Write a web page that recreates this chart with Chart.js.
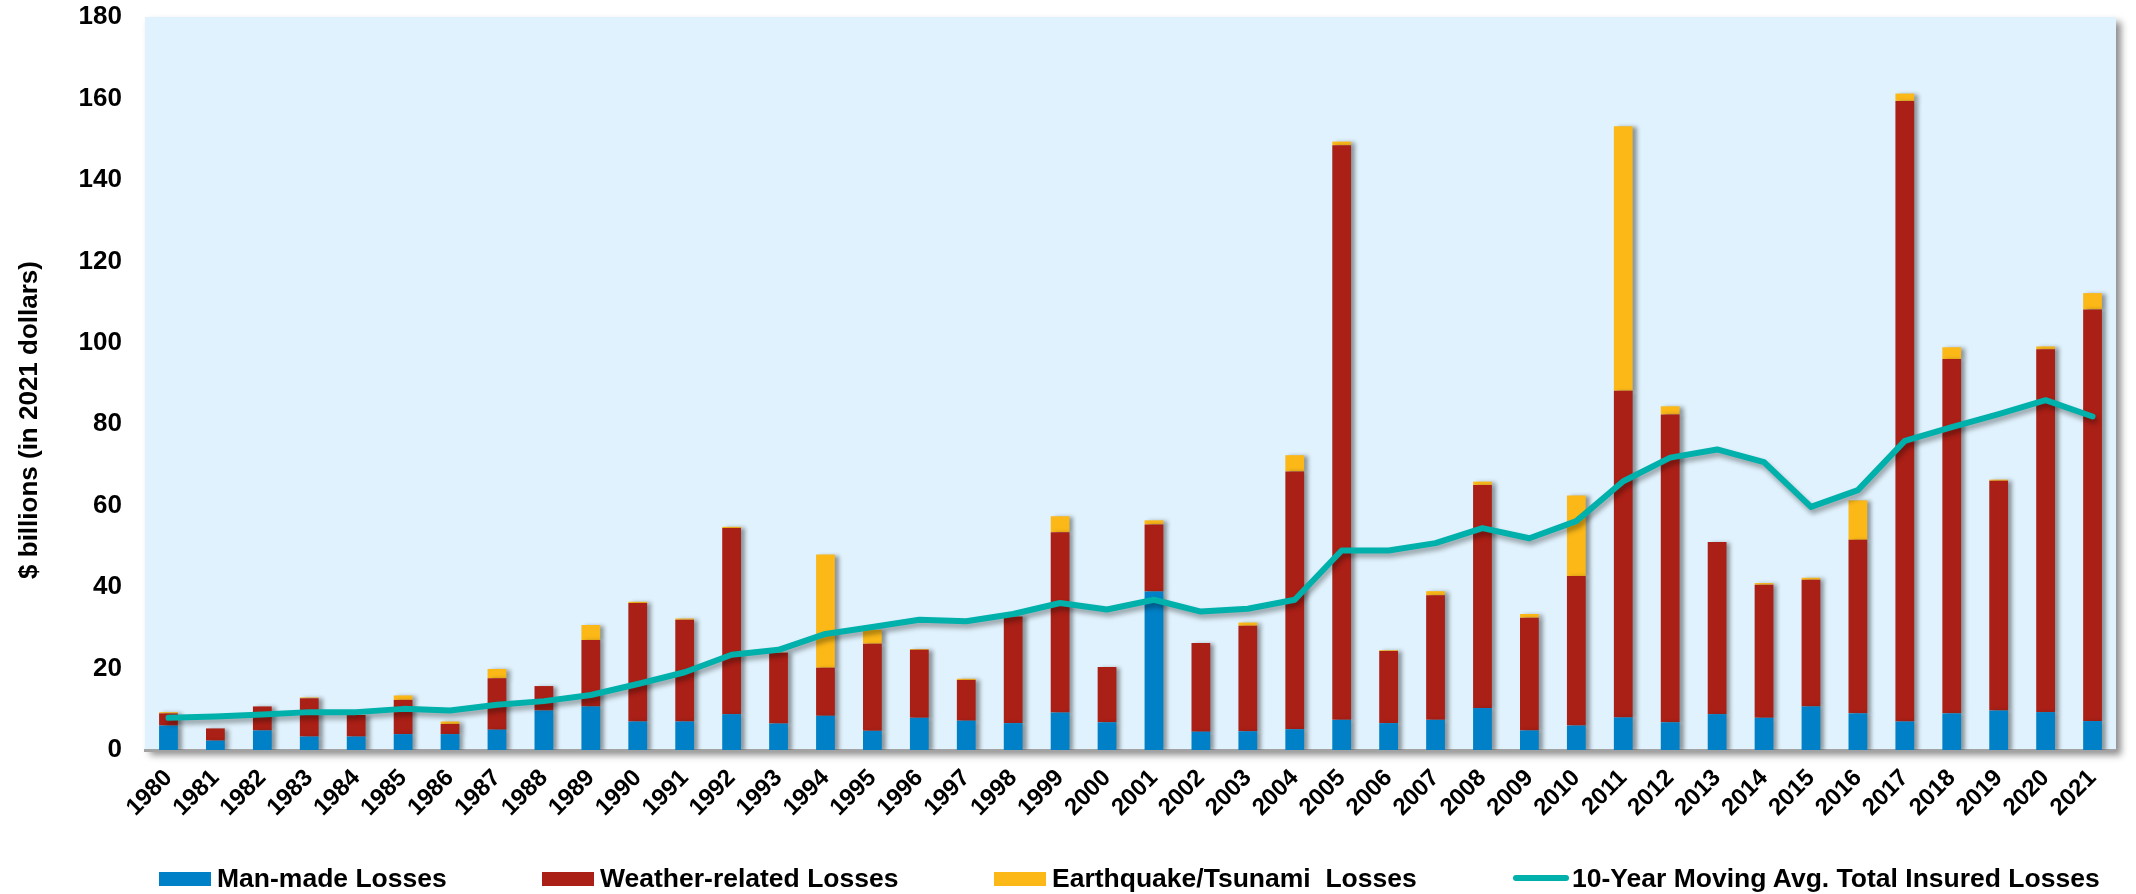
<!DOCTYPE html>
<html>
<head>
<meta charset="utf-8">
<title>Insured catastrophe losses, 1980-2021</title>
<script src="https://cdn.jsdelivr.net/npm/chart.js@4.4.1/dist/chart.umd.min.js"></script>
<style>
  html, body { margin: 0; padding: 0; background: #ffffff; }
  #wrap { position: relative; width: 2136px; height: 894px; overflow: hidden; }
  #chart { position: absolute; left: 0; top: 0; }
  #legend { position: absolute; left: 0; top: 0; width: 2136px; height: 894px; pointer-events: none;
            font: bold 26.5px "Liberation Sans", Arial, sans-serif; color: #000; }
  .swatch { position: absolute; }
  .ltext { position: absolute; white-space: pre; line-height: 26px; }
</style>
</head>
<body>
<div id="wrap">
  <canvas id="chart" width="2136" height="894"></canvas>
  <div id="legend"></div>
</div>
<script>
// Years on the category axis
const years = ['1980','1981','1982','1983','1984','1985','1986','1987','1988','1989',
               '1990','1991','1992','1993','1994','1995','1996','1997','1998','1999',
               '2000','2001','2002','2003','2004','2005','2006','2007','2008','2009',
               '2010','2011','2012','2013','2014','2015','2016','2017','2018','2019',
               '2020','2021'];

// Insured losses, $ billions (2021 dollars)
const manMade = [6.0, 2.3, 4.8, 3.3, 3.3, 3.9, 3.9, 5.0, 9.7, 10.7,
                 7.0, 7.0, 8.8, 6.5, 8.4, 4.7, 7.9, 7.2, 6.6, 9.2,
                 6.8, 38.9, 4.5, 4.6, 5.1, 7.4, 6.6, 7.4, 10.3, 4.8,
                 6.0, 8.0, 6.8, 8.8, 7.9, 10.7, 9.0, 7.0, 9.0, 9.7,
                 9.3, 7.1];

const weatherRelated = [3.0, 3.0, 5.9, 9.4, 5.3, 8.4, 2.5, 12.6, 6.0, 16.3,
                        29.1, 25.0, 45.7, 17.4, 11.8, 21.4, 16.7, 10.0, 26.2, 44.3,
                        13.6, 16.5, 21.8, 25.9, 63.3, 141.1, 17.7, 30.6, 54.8, 27.7,
                        36.7, 80.2, 75.6, 42.3, 32.7, 31.1, 42.6, 152.4, 87.0, 56.4,
                        89.1, 101.1];

const earthquakeTsunami = [0.3, 0, 0, 0.2, 0, 1.1, 0.6, 2.3, 0, 3.7,
                           0.3, 0.3, 0.3, 0.1, 27.8, 3.4, 0.2, 0.3, 0, 3.9,
                           0, 1.0, 0, 0.8, 4.0, 0.9, 0.2, 1.0, 0.8, 0.9,
                           19.8, 65.0, 2.0, 0, 0.4, 0.5, 9.7, 1.8, 2.9, 0.3,
                           0.7, 4.0];

const movingAvg = [7.9, 8.2, 8.7, 9.3, 9.3, 10.1, 9.7, 11.1, 12.0, 13.5,
                   16.2, 19.1, 23.4, 24.6, 28.5, 30.2, 32.0, 31.6, 33.4, 36.1,
                   34.5, 36.9, 34.0, 34.7, 36.9, 49.0, 49.0, 50.8, 54.5, 52.0,
                   56.2, 66.0, 71.8, 73.8, 70.7, 59.7, 63.8, 75.9, 79.3, 82.5,
                   85.9, 81.9];

// Value axis range and step
const yMin = 0;
const yMax = 180;
const yStep = 20;

const seriesLabels = ['Man-made Losses', 'Weather-related Losses', 'Earthquake/Tsunami  Losses',
                      '10-Year Moving Avg. Total Insured Losses'];
const yTitle = '$ billions (in 2021 dollars)';

const FONT = '"Liberation Sans", Arial, sans-serif';
const BLUE = '#0080c6';
const RED = '#aa1f16';
const YELLOW = '#fbb817';
const TEAL = '#00b0aa';
const PLOT_BG = '#e0f2fd';

// Light-blue plot area with a soft drop shadow
const plotBackground = {
  id: 'plotBackground',
  beforeDraw(chart) {
    const { ctx, chartArea: a } = chart;
    ctx.save();
    ctx.shadowColor = 'rgba(0,0,0,0.45)';
    ctx.shadowBlur = 7;
    ctx.shadowOffsetX = 5;
    ctx.shadowOffsetY = 5;
    ctx.fillStyle = PLOT_BG;
    ctx.fillRect(a.left, a.top, a.right - a.left, a.bottom - a.top);
    ctx.restore();
  }
};

// Drop shadows behind bars and the moving-average line
const markShadows = {
  id: 'markShadows',
  beforeDatasetDraw(chart, args) {
    const c = chart.ctx;
    c.save();
    if (args.meta.type === 'line') {
      c.shadowColor = 'rgba(0,0,0,0.35)';
      c.shadowBlur = 5;
      c.shadowOffsetX = 2;
      c.shadowOffsetY = 4;
    } else {
      c.shadowColor = 'rgba(40,40,40,0.45)';
      c.shadowBlur = 4;
      c.shadowOffsetX = 4;
      c.shadowOffsetY = 1;
    }
  },
  afterDatasetDraw(chart) {
    chart.ctx.restore();
  }
};

// Rotated value-axis title
const valueAxisTitle = {
  id: 'valueAxisTitle',
  afterDraw(chart) {
    const { ctx } = chart;
    ctx.save();
    ctx.translate(30, 420);
    ctx.rotate(-Math.PI / 2);
    ctx.font = 'bold 26px ' + FONT;
    ctx.fillStyle = '#000';
    ctx.textAlign = 'center';
    ctx.textBaseline = 'middle';
    ctx.fillText(yTitle, 0, 0);
    ctx.restore();
  }
};

const chart = new Chart(document.getElementById('chart'), {
  type: 'bar',
  data: {
    labels: years,
    datasets: [
      {
        type: 'line',
        label: seriesLabels[3],
        data: movingAvg,
        borderColor: TEAL,
        backgroundColor: TEAL,
        borderWidth: 6,
        pointRadius: 0,
        tension: 0,
        fill: false,
        borderCapStyle: 'round',
        borderJoinStyle: 'round',
        order: 0
      },
      { label: seriesLabels[0], data: manMade, backgroundColor: BLUE, stack: 'losses', order: 1 },
      { label: seriesLabels[1], data: weatherRelated, backgroundColor: RED, stack: 'losses', order: 1 },
      { label: seriesLabels[2], data: earthquakeTsunami, backgroundColor: YELLOW, stack: 'losses', order: 1 }
    ]
  },
  options: {
    responsive: false,
    animation: false,
    devicePixelRatio: 1,
    layout: { padding: { top: 17, right: 20, left: 0, bottom: 0 } },
    datasets: { bar: { categoryPercentage: 1, barPercentage: 0.4, borderWidth: 0 } },
    plugins: { legend: { display: false }, tooltip: { enabled: false } },
    scales: {
      x: {
        stacked: true,
        grid: { display: false, drawTicks: false },
        border: { display: true, color: '#a3a3a3', width: 3 },
        ticks: {
          autoSkip: false, minRotation: 45, maxRotation: 45, padding: 14,
          color: '#000', font: { family: FONT, size: 24, weight: 'bold' }
        },
        afterFit(scale) {
          scale.height = 144;
          scale.paddingLeft = 0;
          scale.paddingRight = 0;
        }
      },
      y: {
        stacked: true,
        min: yMin, max: yMax,
        grid: { display: false, drawTicks: false },
        border: { display: false },
        ticks: {
          stepSize: yStep, padding: 23,
          color: '#000', font: { family: FONT, size: 26, weight: 'bold' }
        },
        afterFit(scale) {
          scale.width = 145;
          scale.paddingTop = 0;
          scale.paddingBottom = 0;
        }
      }
    }
  },
  plugins: [plotBackground, markShadows, valueAxisTitle]
});

// Legend row built from the chart's datasets
(function buildLegend() {
  const host = document.getElementById('legend');
  const lefts = [159, 542, 994, 1513];
  const order = [1, 2, 3, 0];
  order.forEach((dsIndex, i) => {
    const ds = chart.data.datasets[dsIndex];
    const sw = document.createElement('div');
    sw.className = 'swatch';
    if (ds.type === 'line') {
      sw.style.cssText = `left:${lefts[i]}px;top:875px;width:56px;height:6px;border-radius:3px;background:${ds.borderColor};`;
    } else {
      sw.style.cssText = `left:${lefts[i]}px;top:872px;width:52px;height:14px;background:${ds.backgroundColor};`;
    }
    host.appendChild(sw);
    const tx = document.createElement('div');
    tx.className = 'ltext';
    tx.textContent = ds.label;
    tx.style.left = (lefts[i] + (ds.type === 'line' ? 59 : 58)) + 'px';
    tx.style.top = '865px';
    host.appendChild(tx);
  });
})();
</script>
</body>
</html>
